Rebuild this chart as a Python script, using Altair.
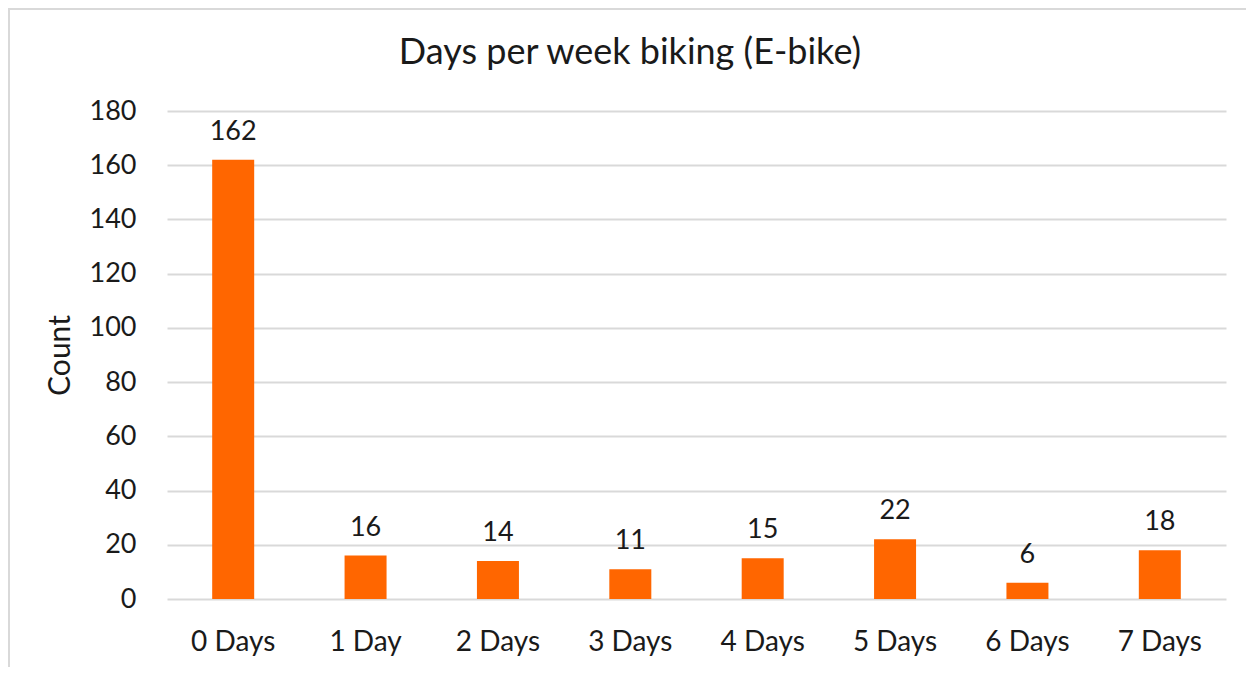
import altair as alt
import pandas as pd

categories = ["0 Days", "1 Day", "2 Days", "3 Days", "4 Days", "5 Days", "6 Days", "7 Days"]
counts = [162, 16, 14, 11, 15, 22, 6, 18]
chart_title = ["Days per week biking (E-bike)"]

df = pd.DataFrame({"cat": categories, "count": counts})
title_df = pd.DataFrame({"t": chart_title})

FONT = "Lato"
ORANGE = "#FF6600"
TXT = "#1a1a1a"

base = alt.Chart(df)

frame = alt.Chart(title_df).mark_rect(fill="transparent", stroke="#d9d9d9", strokeWidth=2, clip=False).encode(
    x=alt.value(-158), x2=alt.value(1200), y=alt.value(-102), y2=alt.value(700)
)

title = alt.Chart(title_df).mark_text(fontSize=36, font=FONT, color=TXT, baseline="middle", align="center").encode(
    x=alt.value(463), y=alt.value(-58), text="t:N"
)

bars = base.mark_bar(color=ORANGE, size=42).encode(
    x=alt.X("cat:N", sort=categories, title=None,
            axis=alt.Axis(labelAngle=0, labelFontSize=28, labelFont=FONT, labelColor=TXT,
                          domain=False, ticks=False, labelPadding=29)),
    y=alt.Y("count:Q", title="Count", scale=alt.Scale(domain=[0, 180]),
            axis=alt.Axis(values=list(range(0, 181, 20)), labelFontSize=27, labelFont=FONT,
                          labelColor=TXT, domain=False, ticks=False, labelPadding=31,
                          titleFontSize=30, titleFont=FONT, titleFontWeight="normal",
                          titleColor=TXT, titlePadding=14,
                          gridColor="#d9d9d9", gridWidth=2)),
)

labels = base.mark_text(dy=-14, baseline="bottom", fontSize=27, font=FONT, color=TXT).encode(
    x=alt.X("cat:N", sort=categories),
    y="count:Q",
    text="count:Q",
)

chart = alt.layer(bars, labels, title, frame).properties(
    width=1059, height=488,
    autosize=alt.AutoSizeParams(type="none"),
    padding={"left": 159, "top": 103, "right": 20, "bottom": 68},
).configure_view(stroke=None).configure_scale(bandPaddingInner=0.68, bandPaddingOuter=0.34)

chart.save("out.html", embed_options={"renderer": "svg", "actions": False})
